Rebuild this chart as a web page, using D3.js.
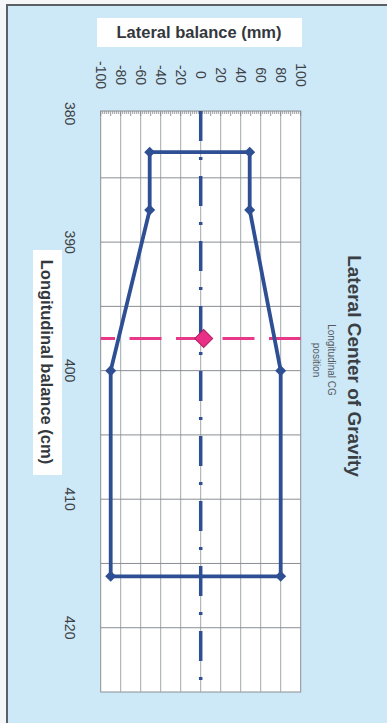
<!DOCTYPE html>
<html>
<head>
<meta charset="utf-8">
<script src="https://cdn.jsdelivr.net/npm/d3@7"></script>
<style>
  body { margin: 0; background: #f4f6f7; }
  svg { display: block; font-family: "Liberation Sans", Arial, sans-serif; }
</style>
</head>
<body>
<div id="chart"></div>
<script>
// ticks
var lateralTicks = [-100, -80, -60, -40, -20, 0, 20, 40, 60, 80, 100];
var longTicks = [380, 390, 400, 410, 420];
var longGrid = [385, 390, 395, 400, 405, 410, 415, 420];

// CG envelope (lateral mm, longitudinal cm)
var envelopeLat = [-51, 49, 49, 80, 80, -90, -90, -51];
var envelopeLong = [383, 383, 387.5, 400, 416, 416, 400, 387.5];

// longitudinal CG position + current CG point
var cgLong = [397.5];
var cgPoint = [3, 397.5];

var width = 387, height = 723;

var svg = d3.select("#chart").append("svg")
    .attr("width", width)
    .attr("height", height);

// panel background + frame
svg.append("rect")
    .attr("x", 7).attr("y", 5)
    .attr("width", width).attr("height", height)
    .attr("fill", "#cde8f6");
svg.append("path")
    .attr("d", "M7," + height + "V5H" + width)
    .attr("fill", "none")
    .attr("stroke", "#5a6066")
    .attr("stroke-width", 2);

var x = d3.scaleLinear().domain([-100, 100]).range([100.7, 300.7]);
var y = d3.scaleLinear().domain([379.8, 425]).range([111, 692]);

// plot area
svg.append("rect")
    .attr("x", x(-100)).attr("y", y(379.8))
    .attr("width", x(100) - x(-100))
    .attr("height", y(425) - y(379.8))
    .attr("fill", "white")
    .attr("stroke", "#8a8f94")
    .attr("stroke-width", 1);

// grid
svg.append("g")
    .selectAll("line")
    .data(lateralTicks.slice(1, -1))
    .join("line")
    .attr("x1", d => x(d)).attr("x2", d => x(d))
    .attr("y1", y(379.8)).attr("y2", y(425))
    .attr("stroke", "#a4a8ac")
    .attr("stroke-width", 1);

svg.append("g")
    .selectAll("line")
    .data(longGrid)
    .join("line")
    .attr("x1", x(-100)).attr("x2", x(100))
    .attr("y1", d => y(d)).attr("y2", d => y(d))
    .attr("stroke", "#8a8f94")
    .attr("stroke-width", 1);

// ruler ticks along the top edge
var minor = d3.range(-100, 101, 2);
svg.append("g")
    .selectAll("line")
    .data(minor)
    .join("line")
    .attr("x1", d => x(d)).attr("x2", d => x(d))
    .attr("y1", y(379.8))
    .attr("y2", d => y(379.8) + (d % 10 == 0 ? 5 : 3))
    .attr("stroke", "#7d8286")
    .attr("stroke-width", 0.8);

// top axis labels (rotated)
svg.append("g")
    .selectAll("text")
    .data(lateralTicks)
    .join("text")
    .attr("transform", d => "translate(" + x(d) + ",75) rotate(90)")
    .attr("text-anchor", "middle")
    .attr("dy", "0.35em")
    .attr("font-size", 14)
    .attr("fill", "#3d4247")
    .text(d => d);

// left axis labels (rotated)
svg.append("g")
    .selectAll("text")
    .data(longTicks)
    .join("text")
    .attr("transform", d => "translate(70," + y(d) + ") rotate(90)")
    .attr("text-anchor", "middle")
    .attr("dy", "0.35em")
    .attr("font-size", 14)
    .attr("fill", "#3d4247")
    .text(d => d);

// axis titles in white boxes
svg.append("rect")
    .attr("x", 97).attr("y", 18)
    .attr("width", 205).attr("height", 29)
    .attr("fill", "white");
svg.append("text")
    .attr("x", 199).attr("y", 38)
    .attr("text-anchor", "middle")
    .attr("font-size", 16.5)
    .attr("font-weight", "bold")
    .attr("fill", "#33383d")
    .text("Lateral balance (mm)");

svg.append("rect")
    .attr("x", 33).attr("y", 250)
    .attr("width", 29).attr("height", 225)
    .attr("fill", "white");
svg.append("text")
    .attr("transform", "translate(47,362) rotate(90)")
    .attr("text-anchor", "middle")
    .attr("dy", "0.35em")
    .attr("font-size", 16.5)
    .attr("font-weight", "bold")
    .attr("fill", "#33383d")
    .text("Longitudinal balance (cm)");

// chart title on the right
svg.append("text")
    .attr("transform", "translate(355,366) rotate(90)")
    .attr("text-anchor", "middle")
    .attr("dy", "0.35em")
    .attr("font-size", 19)
    .attr("font-weight", "bold")
    .attr("fill", "#3a3f44")
    .text("Lateral Center of Gravity");

var sub = svg.append("text")
    .attr("transform", "translate(331,360) rotate(90)")
    .attr("text-anchor", "middle")
    .attr("font-size", 10)
    .attr("fill", "#555a5f");
sub.append("tspan").attr("x", 0).attr("dy", "0.35em").text("Longitudinal CG");
sub.append("tspan").attr("x", 0).attr("dy", "1.5em").text("position");

// centre line (dash-dot)
svg.append("line")
    .attr("x1", x(0)).attr("x2", x(0))
    .attr("y1", y(379.8)).attr("y2", y(425))
    .attr("stroke", "#2e4f94")
    .attr("stroke-width", 3.5)
    .attr("stroke-dasharray", "30,16,3,16");

// longitudinal CG line
svg.append("g")
    .selectAll("line")
    .data(cgLong)
    .join("line")
    .attr("x1", x(-100)).attr("x2", x(100))
    .attr("y1", d => y(d)).attr("y2", d => y(d))
    .attr("stroke", "#e8388a")
    .attr("stroke-width", 3)
    .attr("stroke-dasharray", "32,14.5")
    .attr("stroke-dashoffset", 17.7);

// envelope
var envelope = envelopeLat.map((d, i) => [d, envelopeLong[i]]);
var line = d3.line().x(d => x(d[0])).y(d => y(d[1])).curve(d3.curveLinearClosed);

svg.append("path")
    .datum(envelope)
    .attr("d", line)
    .attr("fill", "none")
    .attr("stroke", "#2e4f94")
    .attr("stroke-width", 3.8)
    .attr("stroke-linejoin", "round");

svg.append("g")
    .selectAll("path")
    .data(envelope)
    .join("path")
    .attr("transform", d => "translate(" + x(d[0]) + "," + y(d[1]) + ") rotate(45)")
    .attr("d", d3.symbol().type(d3.symbolSquare).size(60))
    .attr("fill", "#2e4f94");

// CG point
svg.append("path")
    .attr("transform", "translate(" + x(cgPoint[0]) + "," + y(cgPoint[1]) + ") rotate(45)")
    .attr("d", d3.symbol().type(d3.symbolSquare).size(160))
    .attr("fill", "#ea2f86")
    .attr("stroke", "#b0205f")
    .attr("stroke-width", 1);
</script>
</body>
</html>
